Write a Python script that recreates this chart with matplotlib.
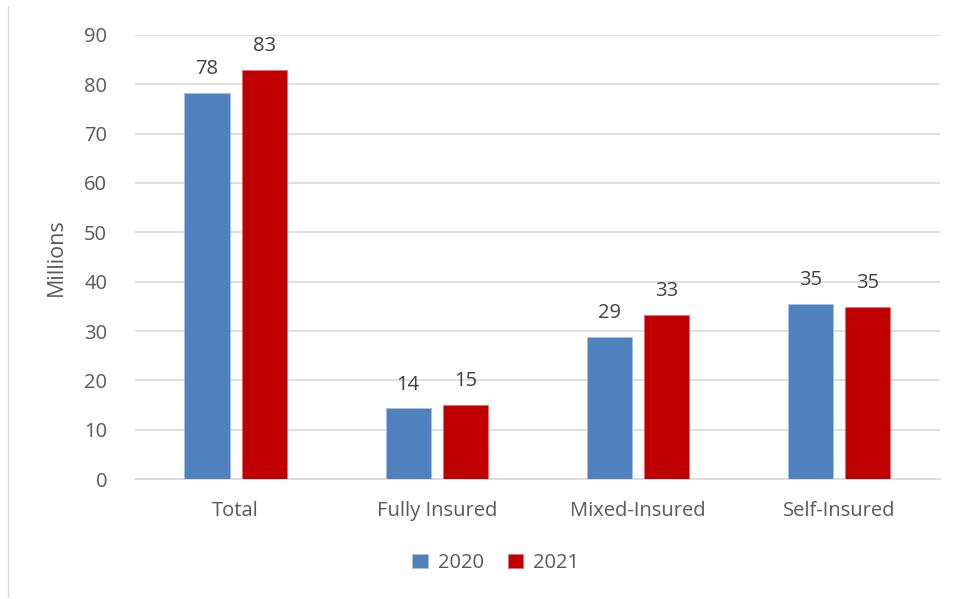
import numpy as np
import matplotlib.pyplot as plt
from matplotlib.lines import Line2D

categories = ["Total", "Fully Insured", "Mixed-Insured", "Self-Insured"]
values_2020 = [78.3, 14.3, 28.8, 35.4]
values_2021 = [83.0, 15.0, 33.2, 34.8]
series_names = ["2020", "2021"]

blue = "#4f81bd"
red = "#c00000"
text_color = "#595959"

plt.rcParams["font.family"] = ["Open Sans", "DejaVu Sans"]

fig = plt.figure(figsize=(9.57, 5.99), dpi=100)
ax = fig.add_axes([0.141, 0.2003, 0.841, 0.7413])

x = np.arange(len(categories))
width = 0.224
offset = 0.142

bars1 = ax.bar(x - offset, values_2020, width, color=blue, label=series_names[0],
               edgecolor="#a9c0de", linewidth=0.6, zorder=3)
bars2 = ax.bar(x + offset, values_2021, width, color=red, label=series_names[1],
               edgecolor="#e07070", linewidth=0.6, zorder=3)

for bars in (bars1, bars2):
    for b in bars:
        h = b.get_height()
        ax.annotate(f"{h:.0f}", (b.get_x() + b.get_width() / 2, h),
                    xytext=(0, 10), textcoords="offset points",
                    ha="center", va="bottom", fontsize=14.5, color="#404040")

ax.set_xlim(-0.5, 3.5)
ax.set_ylim(0, 90)
ax.set_yticks(range(0, 91, 10))
ax.set_xticks(x)
ax.set_xticklabels(categories)
ax.tick_params(axis="both", length=0, labelsize=14.5, colors=text_color)
ax.tick_params(axis="y", pad=20)
ax.tick_params(axis="x", pad=16)
ax.grid(axis="y", color="#d9d9d9", linewidth=1.2, zorder=0)
for s in ["top", "right", "left"]:
    ax.spines[s].set_visible(False)
ax.spines["bottom"].set_color("#d9d9d9")
ax.spines["bottom"].set_linewidth(1.2)
ax.set_ylabel("Millions", fontsize=15.5, color=text_color, labelpad=12)

fig.legend(handles=[bars1, bars2], labels=series_names, loc="center",
           bbox_to_anchor=(0.518, 0.06), ncol=2, frameon=False,
           fontsize=14.5, labelcolor=text_color, handlelength=0.75,
           handleheight=0.75, handletextpad=0.5, columnspacing=1.2)

fig.add_artist(Line2D([8 / 957, 8 / 957], [0.005, 0.99], color="#d9d9d9",
                      linewidth=1, transform=fig.transFigure))

fig.savefig("out.png", dpi=100)
